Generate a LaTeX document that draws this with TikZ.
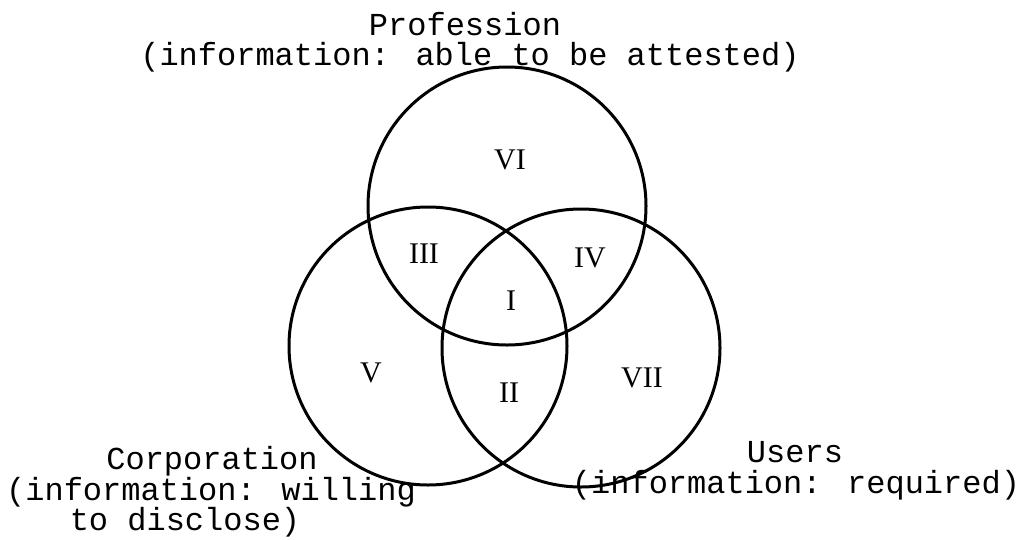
\documentclass[tikz,border=0pt]{standalone}
\usepackage{fontspec}
\setmainfont{Liberation Serif}
\newfontfamily\typewriter{Liberation Mono}
\begin{document}
\begin{tikzpicture}[x=1pt,y=-1pt,
  ring/.style={draw=black,line width=3pt},
  lbl/.style={anchor=base,inner sep=0pt,font=\typewriter\fontsize{32}{32}\selectfont},
  region/.style={anchor=base,inner sep=0pt,font=\fontsize{30}{30}\selectfont}]
\useasboundingbox (0,0) rectangle (1026,539);
% circles
\coordinate (ctop) at (507,206);
\coordinate (cleft) at (428,346);
\coordinate (cright) at (581,348);
\draw[ring] (ctop) circle[radius=139];
\draw[ring] (cleft) circle[radius=139];
\draw[ring] (cright) circle[radius=139];
% region labels
\node[region] (r6) at (510,169) {VI};
\node[region] (r3) at (424,263) {III};
\node[region] (r4) at (590,267) {IV};
\node[region] (r1) at (511,310) {I};
\node[region] (r5) at (371,382) {V};
\node[region] (r2) at (509,402) {II};
\node[region] (r7) at (642,387) {VII};
% set labels
\node[lbl] (t1) at (465,35) {Profession};
\node[lbl] (t2) at (470,65) {(information: able to be attested)};
\node[lbl] (c1) at (212,469) {Corporation};
\node[lbl] (c2) at (211,500) {(information: willing};
\node[lbl] (c3) at (185,530) {to disclose)};
\node[lbl] (u1) at (795,462) {Users};
\node[lbl] (u2) at (796,493) {(information: required)};
\end{tikzpicture}
\end{document}
